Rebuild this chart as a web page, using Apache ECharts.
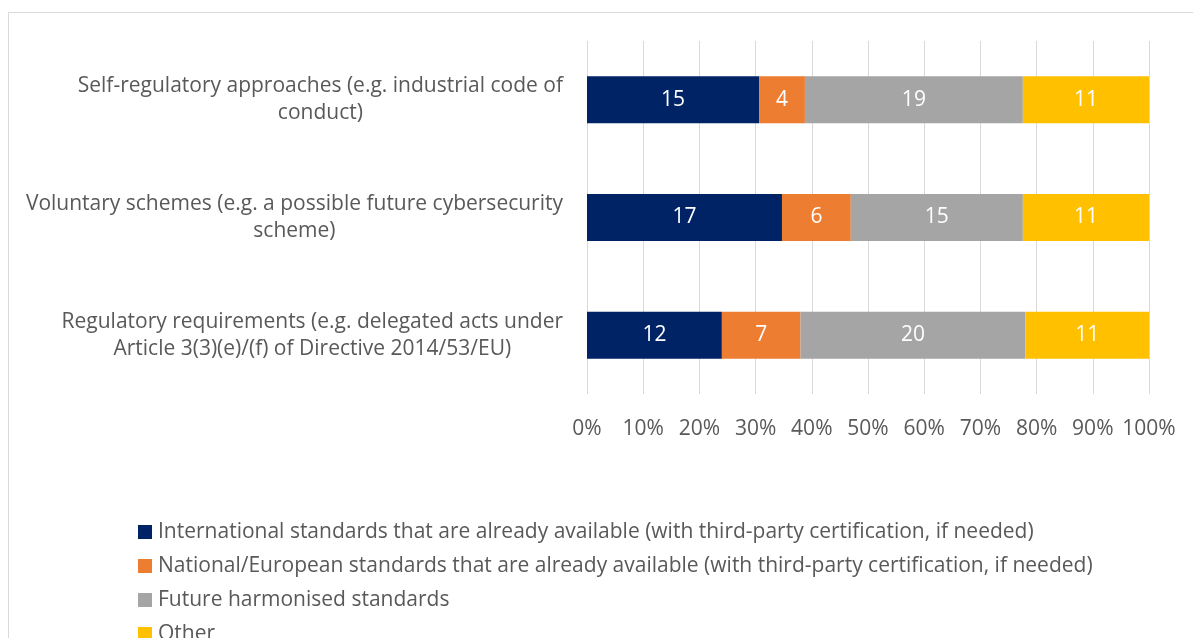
<!DOCTYPE html>
<html>
<head>
<meta charset="utf-8">
<script src="https://cdn.jsdelivr.net/npm/echarts@6/dist/echarts.min.js"></script>
<style>
html,body{margin:0;padding:0;background:#fff;overflow:hidden;}
#frame{position:absolute;left:8px;top:12px;width:1400px;height:800px;border:1px solid #d9d9d9;box-sizing:border-box;}
#chart{position:absolute;left:0;top:0;width:1193px;height:638px;}
</style>
</head>
<body>
<div id="frame"></div>
<div id="chart"></div>
<script>
const categories = [
  "Self-regulatory approaches (e.g. industrial code of\nconduct)",
  "Voluntary schemes (e.g. a possible future cybersecurity\nscheme)",
  "Regulatory requirements (e.g. delegated acts under\nArticle 3(3)(e)/(f) of Directive 2014/53/EU)"
];
const seriesNames = [
  "International standards that are already available (with third-party certification, if needed)",
  "National/European standards that are already available (with third-party certification, if needed)",
  "Future harmonised standards",
  "Other"
];
const international = [15, 17, 12];
const national = [4, 6, 7];
const future = [19, 15, 20];
const other = [11, 11, 11];
const colors = ["#002366", "#ED7D31", "#A5A5A5", "#FFC000"];
const xTicks = ["0%","10%","20%","30%","40%","50%","60%","70%","80%","90%","100%"];

const FONT = "Open Sans";
const FS = 21;
const raw = [international, national, future, other];
const totals = categories.map((c, i) => raw.reduce((s, arr) => s + arr[i], 0));

const chart = echarts.init(document.getElementById('chart'));
chart.setOption({
  animation: false,
  color: colors,
  textStyle: { fontFamily: FONT },
  grid: { left: 587, right: 44, top: 41, bottom: 244, containLabel: false },
  legend: {
    orient: 'vertical',
    left: 138,
    top: 521,
    height: 300,
    padding: 0,
    icon: 'rect',
    itemWidth: 14,
    itemHeight: 14,
    itemGap: 12,
    textStyle: { color: '#595959', fontSize: FS, lineHeight: 22, fontFamily: FONT, padding: [0, 0, 0, 1] },
    data: seriesNames
  },
  xAxis: {
    type: 'value',
    min: 0, max: 100, interval: 10,
    axisLine: { show: false },
    axisTick: { show: false },
    splitLine: { lineStyle: { color: '#d9d9d9', width: 1 } },
    axisLabel: {
      color: '#595959', fontSize: FS, margin: 25, fontFamily: FONT,
      formatter: v => xTicks[Math.round(v / 10)]
    }
  },
  yAxis: {
    type: 'category',
    inverse: true,
    data: categories,
    axisLine: { show: false },
    axisTick: { show: false },
    axisLabel: {
      color: '#595959', fontSize: FS, margin: 24, fontFamily: FONT,
      align: 'right',
      formatter: v => v.split('\n').map(l => '{c|' + l + '}').join('\n'),
      rich: { c: { align: 'center', color: '#595959', fontSize: FS, lineHeight: 27, fontFamily: FONT } }
    }
  },
  series: raw.map((arr, si) => ({
    name: seriesNames[si],
    type: 'bar',
    stack: 'total',
    barWidth: '40%',
    data: arr.map((v, i) => ({ value: v / totals[i] * 100, count: v })),
    label: {
      show: true,
      position: 'inside',
      color: '#ffffff',
      fontSize: FS,
      fontFamily: FONT,
      formatter: p => String(p.data.count)
    }
  }))
});
</script>
</body>
</html>
